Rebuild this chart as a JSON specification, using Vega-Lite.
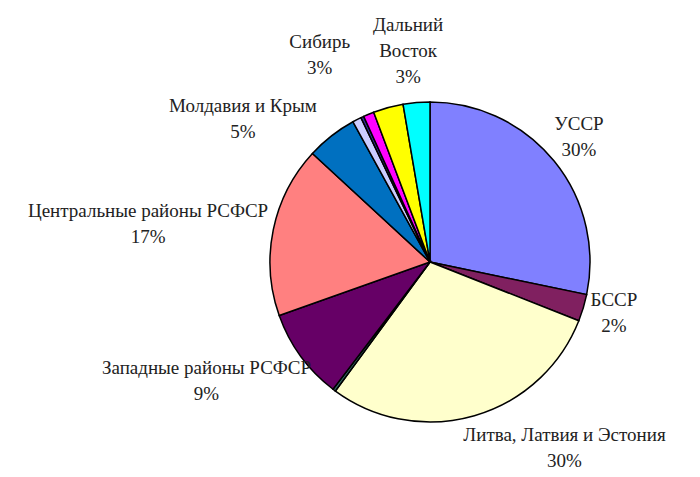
{
  "$schema": "https://vega.github.io/schema/vega-lite/v6.json",
  "autosize": "none",
  "width": 520,
  "height": 440,
  "padding": {"left": 170, "top": 42, "right": 10, "bottom": 0},
  "background": "white",
  "view": {"stroke": null},
  "config": {
    "text": {"align": "center", "baseline": "middle", "font": "Liberation Serif", "fontSize": 19, "lineBreak": "\n", "lineHeight": 26, "color": "#222222"}
  },
  "data": {"values": [
    {"i": 1, "name": "УССР", "value": 28.25, "label": "УССР\n30%"},
    {"i": 2, "name": "БССР", "value": 2.72, "label": "БССР\n2%"},
    {"i": 3, "name": "Литва, Латвия и Эстония", "value": 29.06, "label": "Литва, Латвия и Эстония\n30%"},
    {"i": 4, "name": "Прочие 1", "value": 0.3, "label": ""},
    {"i": 5, "name": "Западные районы РСФСР", "value": 9.2, "label": "Западные районы РСФСР\n9%"},
    {"i": 6, "name": "Центральные районы РСФСР", "value": 17.28, "label": "Центральные районы РСФСР\n17%"},
    {"i": 7, "name": "Молдавия и Крым", "value": 5.14, "label": "Молдавия и Крым\n5%"},
    {"i": 8, "name": "Прочие 2", "value": 0.89, "label": ""},
    {"i": 9, "name": "Прочие 3", "value": 0.3, "label": ""},
    {"i": 10, "name": "Прочие 4", "value": 1.08, "label": ""},
    {"i": 11, "name": "Сибирь", "value": 3.03, "label": "Сибирь\n3%"},
    {"i": 12, "name": "Дальний Восток", "value": 2.69, "label": "Дальний\nВосток\n3%"}
  ]},
  "encoding": {
    "theta": {"field": "value", "type": "quantitative", "stack": true},
    "order": {"field": "i", "type": "quantitative"}
  },
  "layer": [
    {
      "mark": {"type": "arc", "outerRadius": 160, "stroke": "#000000", "strokeWidth": 1.5},
      "encoding": {
        "color": {
          "field": "name", "type": "nominal", "legend": null,
          "scale": {
            "domain": ["УССР", "БССР", "Литва, Латвия и Эстония", "Прочие 1", "Западные районы РСФСР", "Центральные районы РСФСР", "Молдавия и Крым", "Прочие 2", "Прочие 3", "Прочие 4", "Сибирь", "Дальний Восток"],
            "range": ["#8080FF", "#802060", "#FFFFCC", "#336666", "#660066", "#FF8080", "#0070C0", "#CCCCFF", "#333399", "#FF00FF", "#FFFF00", "#00FFFF"]
          }
        }
      }
    },
    {
      "mark": {"type": "text", "radius": 192, "dx": 0, "dy": -17},
      "encoding": {"text": {"condition": {"test": "indexof(['УССР','БССР'], datum.name) >= 0", "field": "label"}, "value": ""}}
    },
    {
      "mark": {"type": "text", "radius": 200, "dx": 79, "dy": -19},
      "encoding": {"text": {"condition": {"test": "datum.name == 'Литва, Латвия и Эстония'", "field": "label"}, "value": ""}}
    },
    {
      "mark": {"type": "text", "radius": 190, "dx": -70, "dy": -6},
      "encoding": {"text": {"condition": {"test": "indexof(['Западные районы РСФСР','Молдавия и Крым'], datum.name) >= 0", "field": "label"}, "value": ""}}
    },
    {
      "mark": {"type": "text", "radius": 200, "dx": -86, "dy": -11},
      "encoding": {"text": {"condition": {"test": "datum.name == 'Центральные районы РСФСР'", "field": "label"}, "value": ""}}
    },
    {
      "mark": {"type": "text", "radius": 200, "dx": -58, "dy": -27},
      "encoding": {"text": {"condition": {"test": "datum.name == 'Сибирь'", "field": "label"}, "value": ""}}
    },
    {
      "mark": {"type": "text", "radius": 200, "dx": -5, "dy": -38},
      "encoding": {"text": {"condition": {"test": "datum.name == 'Дальний Восток'", "field": "label"}, "value": ""}}
    }
  ]
}
